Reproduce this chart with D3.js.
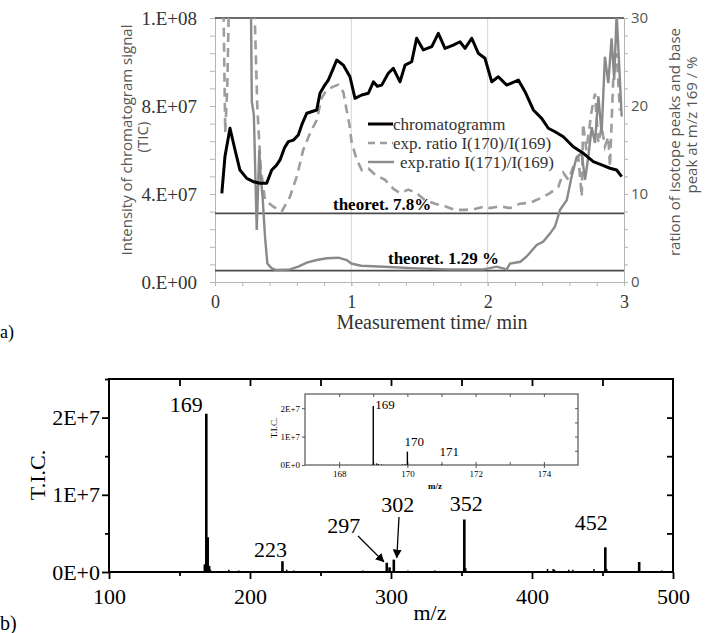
<!DOCTYPE html>
<html>
<head>
<meta charset="utf-8">
<script src="https://cdn.jsdelivr.net/npm/d3@7/dist/d3.min.js"></script>
<style>
    body { margin: 0; background: #fff; }
    svg { display: block; }
</style>
</head>
<body>
<div id="chart-area"></div>
<script>
/*
*    chromatogram + mass spectrum
*/

// (a) time in min, TIC in units of 1E+07
var chromatogram = [[0.05,4.03],[0.073,5.7],[0.11,6.99],[0.147,6.0],[0.183,5.09],[0.233,4.71],[0.281,4.56],[0.33,4.49],
    [0.379,4.49],[0.416,5.09],[0.45,5.3],[0.477,5.55],[0.51,6.1],[0.538,6.38],[0.575,6.45],[0.611,6.68],[0.64,7.2],[0.673,7.67],
    [0.746,7.82],[0.77,8.58],[0.8,8.9],[0.831,9.18],[0.86,9.6],[0.893,10.09],[0.941,9.86],[0.99,9.33],[1.027,8.35],[1.076,8.5],
    [1.125,8.58],[1.162,9.1],[1.19,8.9],[1.223,8.95],[1.271,9.49],[1.308,9.71],[1.357,9.1],[1.394,9.86],[1.443,10.01],[1.479,11.08],
    [1.528,10.55],[1.59,10.7],[1.638,11.3],[1.687,10.62],[1.748,10.77],[1.797,10.92],[1.834,10.62],[1.883,11.08],[1.931,10.4],
    [1.98,10.17],[2.03,9.1],[2.078,9.33],[2.14,8.95],[2.225,9.18],[2.274,8.65],[2.335,7.82],[2.396,7.44],[2.445,6.99],[2.494,6.83],
    [2.555,6.6],[2.628,6.15],[2.702,5.85],[2.775,5.47],[2.836,5.32],[2.897,5.17],[2.946,5.09],[2.983,4.79]]

// ratio I(170)/I(169) in %
var ratio170 = [[0.06,34],[0.075,17],[0.09,22],[0.105,34],[0.2,40],[0.29,31],[0.31,20],[0.335,13],[0.367,9.3],[0.428,8.56],
    [0.489,8.0],[0.55,9.7],[0.6,12.0],[0.647,15.0],[0.697,16.9],[0.746,18.4],[0.782,20.9],[0.818,21.8],[0.867,22.2],[0.904,22.4],
    [0.941,21.6],[0.966,19.5],[0.985,18.0],[1.003,15.8],[1.04,13.9],[1.077,12.7],[1.125,12.9],[1.174,12.2],[1.247,11.6],[1.308,10.6],
    [1.357,10.1],[1.418,10.5],[1.479,10.1],[1.54,9.3],[1.614,8.9],[1.687,8.6],[1.76,8.2],[1.834,8.2],[1.907,8.3],[1.98,8.6],
    [2.017,8.4],[2.09,8.6],[2.164,8.4],[2.237,8.9],[2.31,9.0],[2.384,9.5],[2.457,10.1],[2.518,10.8],[2.555,12.4],[2.592,11.6],
    [2.628,13.1],[2.665,14.2],[2.69,9.7],[2.7,18.0],[2.724,15.0],[2.763,19.5],[2.787,21.4],[2.812,15.8],[2.836,17.6],[2.86,15.4],
    [2.885,16.5],[2.897,13.1],[2.921,23.0],[2.946,26.0],[2.97,19.5]]

// ratio I(171)/I(169) in %
var ratio171 = [[0.262,34],[0.27,20.5],[0.285,19],[0.306,5.9],[0.325,15],[0.335,12],[0.349,9.7],[0.367,5.1],[0.384,2.1],
    [0.416,1.55],[0.452,1.36],[0.55,1.44],[0.611,1.74],[0.673,2.2],[0.746,2.5],[0.82,2.7],[0.905,2.76],[0.966,2.5],[1.0,2.1],
    [1.07,1.85],[1.24,1.74],[1.48,1.55],[1.72,1.44],[1.97,1.44],[2.066,1.74],[2.14,1.44],[2.164,2.1],[2.24,2.3],[2.286,2.9],
    [2.36,4.2],[2.408,4.6],[2.457,5.5],[2.494,6.3],[2.531,8.2],[2.58,9.3],[2.616,12],[2.653,14.2],[2.69,14.6],[2.714,11.6],
    [2.738,14.2],[2.763,17.6],[2.787,15.8],[2.812,21.1],[2.836,16.9],[2.86,25.6],[2.885,22.6],[2.909,27.7],[2.928,23.0],
    [2.946,30.5],[2.965,24.5],[2.983,18.8]]

var theoretical = [7.8, 1.29]
var theoreticalLabels = ["theoret. 7.8%", "theoret. 1.29 %"]
var leftTicks = [0, 4e7, 8e7, 1.2e8]
var leftTickLabels = ["0.E+00", "4.E+07", "8.E+07", "1.E+08"]
var rightTicks = [0, 10, 20, 30]
var timeTicks = [0, 1, 2, 3]
var legendNames = ["chromatogramm", "exp. ratio I(170)/I(169)", "exp.ratio I(171)/I(169)"]

// (b) mass spectrum: m/z and T.I.C.
var peakMz = [168, 169, 170, 171, 172, 185, 192, 223, 226, 231, 252, 268, 280, 297, 299, 302, 312, 331, 352, 353,
    369, 380, 395, 411, 415, 416, 426, 429, 444, 452, 453, 476, 492]
var peakTic = [0.1e7, 2.05e7, 0.45e7, 0.08e7, 0.03e7, 0.03e7, 0.02e7, 0.14e7, 0.03e7, 0.02e7, 0.01e7, 0.01e7, 0.02e7,
    0.12e7, 0.06e7, 0.16e7, 0.02e7, 0.02e7, 0.68e7, 0.05e7, 0.01e7, 0.01e7, 0.01e7, 0.04e7, 0.04e7, 0.03e7, 0.03e7,
    0.03e7, 0.04e7, 0.32e7, 0.04e7, 0.13e7, 0.02e7]
var peakLabels = [169, 223, 297, 302, 352, 452]
var mzTicks = [100, 200, 300, 400, 500]
var ticTicks = [0, 1e7, 2e7]
var ticTickLabels = ["0E+0", "1E+7", "2E+7"]

// inset, zoom around m/z 169
var insetMz = [169, 169.1, 169.15, 169.25, 169.85, 169.93, 170, 171]
var insetTic = [2.08e7, 0.06e7, 0.04e7, 0.02e7, 0.02e7, 0.03e7, 0.47e7, 0.02e7]
var insetLabels = [169, 170, 171]
var insetTicks = [168, 170, 172, 174]

var serif = "'Liberation Serif', 'Times New Roman', serif"
var sans = "'Open Sans', 'DejaVu Sans', sans-serif"

var svg = d3.select("#chart-area").append("svg")
    .attr("width", 709)
    .attr("height", 633)

// ---------------- (a) ----------------
var x = d3.scaleLinear().domain([0, 3]).range([215, 624])
var yL = d3.scaleLinear().domain([0, 1.2e8]).range([282, 18])
var yR = d3.scaleLinear().domain([0, 30]).range([282, 18])

var ga = svg.append("g")

ga.selectAll(".vgrid")
    .data([1, 2]).enter().append("line")
    .attr("x1", d => x(d)).attr("x2", d => x(d))
    .attr("y1", 18).attr("y2", 282)
    .attr("stroke", "#d6d6d6")

// minor ticks
ga.append("g")
    .attr("transform", "translate(215,0)")
    .call(d3.axisLeft(yL).tickValues(d3.range(0, 1.2e8 + 1, 8e6)).tickSize(5).tickFormat(""))
ga.append("g")
    .attr("transform", "translate(624,0)")
    .call(d3.axisRight(yR).tickValues(d3.range(0, 31, 2)).tickSize(4).tickFormat(""))
ga.append("g")
    .attr("transform", "translate(0,282)")
    .call(d3.axisBottom(x).tickValues(d3.range(0, 3.01, 0.2)).tickSize(4).tickFormat(""))

var leftAxis = ga.append("g")
    .attr("class", "left axis")
    .attr("transform", "translate(215,0)")
    .call(d3.axisLeft(yL).tickValues(leftTicks).tickSize(5).tickPadding(13)
        .tickFormat((d, i) => leftTickLabels[i]))
leftAxis.selectAll("text")
    .attr("font-family", serif).attr("font-size", "19px").attr("fill", "#333")

var rightAxis = ga.append("g")
    .attr("class", "right axis")
    .attr("transform", "translate(624,0)")
    .call(d3.axisRight(yR).tickValues(rightTicks).tickSize(4).tickPadding(3))
rightAxis.selectAll("text")
    .attr("font-family", sans).attr("font-size", "15px").attr("fill", "#555")

var bottomAxis = ga.append("g")
    .attr("class", "bottom axis")
    .attr("transform", "translate(0,282)")
    .call(d3.axisBottom(x).tickValues(timeTicks).tickSize(4).tickPadding(9).tickFormat(d3.format("d")))
bottomAxis.selectAll("text")
    .attr("font-family", serif).attr("font-size", "18px").attr("fill", "#333")

ga.selectAll(".domain, .tick line").attr("stroke", "#b5b5b5")

// frame top line
ga.append("line")
    .attr("x1", 215).attr("x2", 624)
    .attr("y1", yL(1.2e8)).attr("y2", yL(1.2e8))
    .attr("stroke", "#3a3a3a").attr("stroke-width", 1.5)

ga.selectAll(".theo")
    .data(theoretical).enter().append("line")
    .attr("x1", 215).attr("x2", 624)
    .attr("y1", d => yR(d)).attr("y2", d => yR(d))
    .attr("stroke", "#4a4a4a").attr("stroke-width", 1.6)

ga.append("text")
    .attr("x", 333).attr("y", 210)
    .attr("font-family", serif).attr("font-size", "17px").attr("font-weight", "bold")
    .text(theoreticalLabels[0])
ga.append("text")
    .attr("x", 388).attr("y", 264)
    .attr("font-family", serif).attr("font-size", "17px").attr("font-weight", "bold")
    .text(theoreticalLabels[1])

svg.append("clipPath").attr("id", "clipA")
    .append("rect").attr("x", 215).attr("y", 18).attr("width", 409).attr("height", 264)

var lineL = d3.line().x(d => x(d[0])).y(d => yL(d[1] * 1e7))
var lineR = d3.line().x(d => x(d[0])).y(d => yR(d[1]))

var lines = ga.append("g").attr("clip-path", "url(#clipA)")
lines.append("path")
    .attr("d", lineR(ratio170))
    .attr("fill", "none").attr("stroke", "#9d9d9d").attr("stroke-width", 2.6)
    .attr("stroke-dasharray", "9,6")
lines.append("path")
    .attr("d", lineR(ratio171))
    .attr("fill", "none").attr("stroke", "#8a8a8a").attr("stroke-width", 2.4)
lines.append("path")
    .attr("d", lineL(chromatogram))
    .attr("fill", "none").attr("stroke", "#000").attr("stroke-width", 3)
    .attr("stroke-linejoin", "round")

// legend
var legend = ga.append("g")
var legendY = [124, 143, 162]
legend.append("line").attr("x1", 368).attr("x2", 393).attr("y1", legendY[0]).attr("y2", legendY[0])
    .attr("stroke", "#000").attr("stroke-width", 3)
legend.append("line").attr("x1", 368).attr("x2", 393).attr("y1", legendY[1]).attr("y2", legendY[1])
    .attr("stroke", "#9d9d9d").attr("stroke-width", 2.4).attr("stroke-dasharray", "7,5")
legend.append("line").attr("x1", 368).attr("x2", 394).attr("y1", legendY[2]).attr("y2", legendY[2])
    .attr("stroke", "#8a8a8a").attr("stroke-width", 2.4)
legend.selectAll("text")
    .data(legendNames).enter().append("text")
    .attr("x", (d, i) => i == 2 ? 400 : 393)
    .attr("y", (d, i) => legendY[i] + 6)
    .attr("font-family", serif).attr("font-size", "17px").attr("fill", "#333")
    .text(d => d)

ga.append("text")
    .attr("transform", "translate(132,140) rotate(-90)")
    .attr("text-anchor", "middle")
    .attr("font-family", sans).attr("font-size", "15px").attr("fill", "#555")
    .text("Intensity of chromatogram signal")
ga.append("text")
    .attr("transform", "translate(148,137) rotate(-90)")
    .attr("text-anchor", "middle")
    .attr("font-family", sans).attr("font-size", "15px").attr("fill", "#555")
    .text("(TIC)")
ga.append("text")
    .attr("transform", "translate(680,142) rotate(-90)")
    .attr("text-anchor", "middle")
    .attr("font-family", sans).attr("font-size", "15px").attr("fill", "#555")
    .text("ration of isotope peaks and base")
ga.append("text")
    .attr("transform", "translate(697,125) rotate(-90)")
    .attr("text-anchor", "middle")
    .attr("font-family", sans).attr("font-size", "15px").attr("fill", "#555")
    .text("peak at m/z 169 / %")

ga.append("text")
    .attr("x", 432).attr("y", 329)
    .attr("text-anchor", "middle")
    .attr("font-family", serif).attr("font-size", "20px").attr("fill", "#333")
    .text("Measurement time/ min")

svg.append("text")
    .attr("x", 0).attr("y", 338)
    .attr("font-family", serif).attr("font-size", "18px")
    .text("a)")

// ---------------- (b) ----------------
var xb = d3.scaleLinear().domain([100, 500]).range([109, 673])
var yb = d3.scaleLinear().domain([0, 2.5e7]).range([572, 379])

var gb = svg.append("g")

gb.append("g").attr("transform", "translate(109,0)")
    .call(d3.axisLeft(yb).tickValues([0.5e7, 1.5e7, 2.5e7]).tickSize(4).tickFormat(""))
gb.append("g").attr("transform", "translate(0,572)")
    .call(d3.axisBottom(xb).tickValues([150, 250, 350, 450]).tickSize(4).tickFormat(""))
gb.append("g").attr("transform", "translate(673,0)")
    .call(d3.axisRight(yb).tickValues([0.5e7, 1e7, 1.5e7, 2e7]).tickSize(-6).tickFormat(""))
gb.append("g").attr("transform", "translate(0,379)")
    .call(d3.axisTop(xb).tickValues([150, 200, 250, 300, 350, 400, 450]).tickSize(-7).tickFormat(""))

var bLeft = gb.append("g").attr("transform", "translate(109,0)")
    .call(d3.axisLeft(yb).tickValues(ticTicks).tickSize(7).tickPadding(2)
        .tickFormat((d, i) => ticTickLabels[i]))
bLeft.selectAll("text").attr("font-family", serif).attr("font-size", "22px").attr("fill", "#000")

var bBottom = gb.append("g").attr("transform", "translate(0,572)")
    .call(d3.axisBottom(xb).tickValues(mzTicks).tickSize(7).tickPadding(9))
bBottom.selectAll("text").attr("font-family", serif).attr("font-size", "22px").attr("fill", "#000")

gb.selectAll(".domain").remove()
gb.selectAll(".tick line").attr("stroke", "#000").attr("stroke-width", 1.8)

gb.append("rect")
    .attr("x", 109).attr("y", 379).attr("width", 673 - 109).attr("height", 572 - 379)
    .attr("fill", "none").attr("stroke", "#000").attr("stroke-width", 2)

gb.selectAll(".peak")
    .data(peakMz).enter().append("line")
    .attr("class", "peak")
    .attr("x1", d => xb(d)).attr("x2", d => xb(d))
    .attr("y1", yb(0)).attr("y2", (d, i) => yb(peakTic[i]))
    .attr("stroke", "#000").attr("stroke-width", (d, i) => peakTic[i] > 0.05e7 ? 2.6 : 1.5)

var labelOffset = {169: [-20, -2], 223: [-12, -4], 297: [-43, -30], 302: [4, -48], 352: [2, -9], 452: [-14, -17]}
gb.selectAll(".plabel")
    .data(peakLabels).enter().append("text")
    .attr("x", d => xb(d) + labelOffset[d][0])
    .attr("y", d => yb(peakTic[peakMz.indexOf(d)]) + labelOffset[d][1])
    .attr("text-anchor", "middle")
    .attr("font-family", serif).attr("font-size", "22px")
    .text(d => d)

svg.append("defs").append("marker")
    .attr("id", "arrow")
    .attr("viewBox", "0 0 10 10").attr("refX", 9).attr("refY", 5)
    .attr("markerWidth", 9).attr("markerHeight", 9).attr("markerUnits", "userSpaceOnUse")
    .attr("orient", "auto")
    .append("path").attr("d", "M0,0 L10,5 L0,10 z").attr("fill", "#000")

gb.append("line")
    .attr("x1", 358).attr("y1", 536).attr("x2", xb(297) - 3).attr("y2", yb(0.12e7) - 1)
    .attr("stroke", "#000").attr("stroke-width", 1.3).attr("marker-end", "url(#arrow)")
gb.append("line")
    .attr("x1", 399).attr("y1", 517).attr("x2", xb(302) + 3).attr("y2", yb(0.16e7) - 2)
    .attr("stroke", "#000").attr("stroke-width", 1.3).attr("marker-end", "url(#arrow)")

gb.append("text")
    .attr("x", 430).attr("y", 620)
    .attr("text-anchor", "middle")
    .attr("font-family", serif).attr("font-size", "22px")
    .text("m/z")
gb.append("text")
    .attr("transform", "translate(45,475) rotate(-90)")
    .attr("text-anchor", "middle")
    .attr("font-family", serif).attr("font-size", "22px")
    .text("T.I.C.")

svg.append("text")
    .attr("x", 0).attr("y", 630)
    .attr("font-family", serif).attr("font-size", "20px")
    .text("b)")

// ---------------- inset ----------------
var xi = d3.scaleLinear().domain([167, 175]).range([305, 578])
var yi = d3.scaleLinear().domain([0, 2.5e7]).range([465, 394])

var gi = svg.append("g")
gi.append("rect")
    .attr("x", 305).attr("y", 394).attr("width", 578 - 305).attr("height", 465 - 394)
    .attr("fill", "#fff").attr("stroke", "#555").attr("stroke-width", 1.2)

gi.append("g").attr("transform", "translate(0,394)")
    .call(d3.axisTop(xi).tickValues(d3.range(168, 175)).tickSize(-3).tickFormat(""))
gi.append("g").attr("transform", "translate(0,465)")
    .call(d3.axisBottom(xi).tickValues(d3.range(168, 175)).tickSize(-3).tickFormat(""))
gi.append("g").attr("transform", "translate(578,0)")
    .call(d3.axisRight(yi).tickValues([0.5e7, 1e7, 1.5e7, 2e7]).tickSize(-3).tickFormat(""))
var iLeft = gi.append("g").attr("transform", "translate(305,0)")
    .call(d3.axisLeft(yi).tickValues(ticTicks).tickSize(3).tickPadding(2)
        .tickFormat((d, i) => ticTickLabels[i]))
var iBottom = gi.append("g").attr("transform", "translate(0,465)")
    .call(d3.axisBottom(xi).tickValues(insetTicks).tickSize(3).tickPadding(3))
gi.selectAll("text").attr("font-family", serif).attr("font-size", "9px").attr("fill", "#000")
gi.selectAll(".domain").remove()
gi.selectAll(".tick line").attr("stroke", "#555")

gi.selectAll(".ipeak")
    .data(insetMz).enter().append("line")
    .attr("x1", d => xi(d)).attr("x2", d => xi(d))
    .attr("y1", yi(0)).attr("y2", (d, i) => yi(insetTic[i]))
    .attr("stroke", "#000").attr("stroke-width", (d, i) => insetTic[i] > 0.1e7 ? 1.4 : 1)

var insetLabelPos = {169: [2, 15], 170: [-3, 446], 171: [-2, 456]}
gi.selectAll(".ilabel")
    .data(insetLabels).enter().append("text")
    .attr("x", d => xi(d) + insetLabelPos[d][0])
    .attr("y", d => d == 169 ? yi(insetTic[0]) + insetLabelPos[d][1] - 12 : insetLabelPos[d][1])
    .attr("font-family", serif).attr("font-size", "13px")
    .text(d => d)

gi.append("text")
    .attr("x", 435).attr("y", 489)
    .attr("text-anchor", "middle")
    .attr("font-family", serif).attr("font-size", "9px").attr("font-weight", "bold")
    .text("m/z")
gi.append("text")
    .attr("transform", "translate(277,428) rotate(-90)")
    .attr("text-anchor", "middle")
    .attr("font-family", serif).attr("font-size", "9px")
    .text("T.I.C.")
</script>
</body>
</html>
